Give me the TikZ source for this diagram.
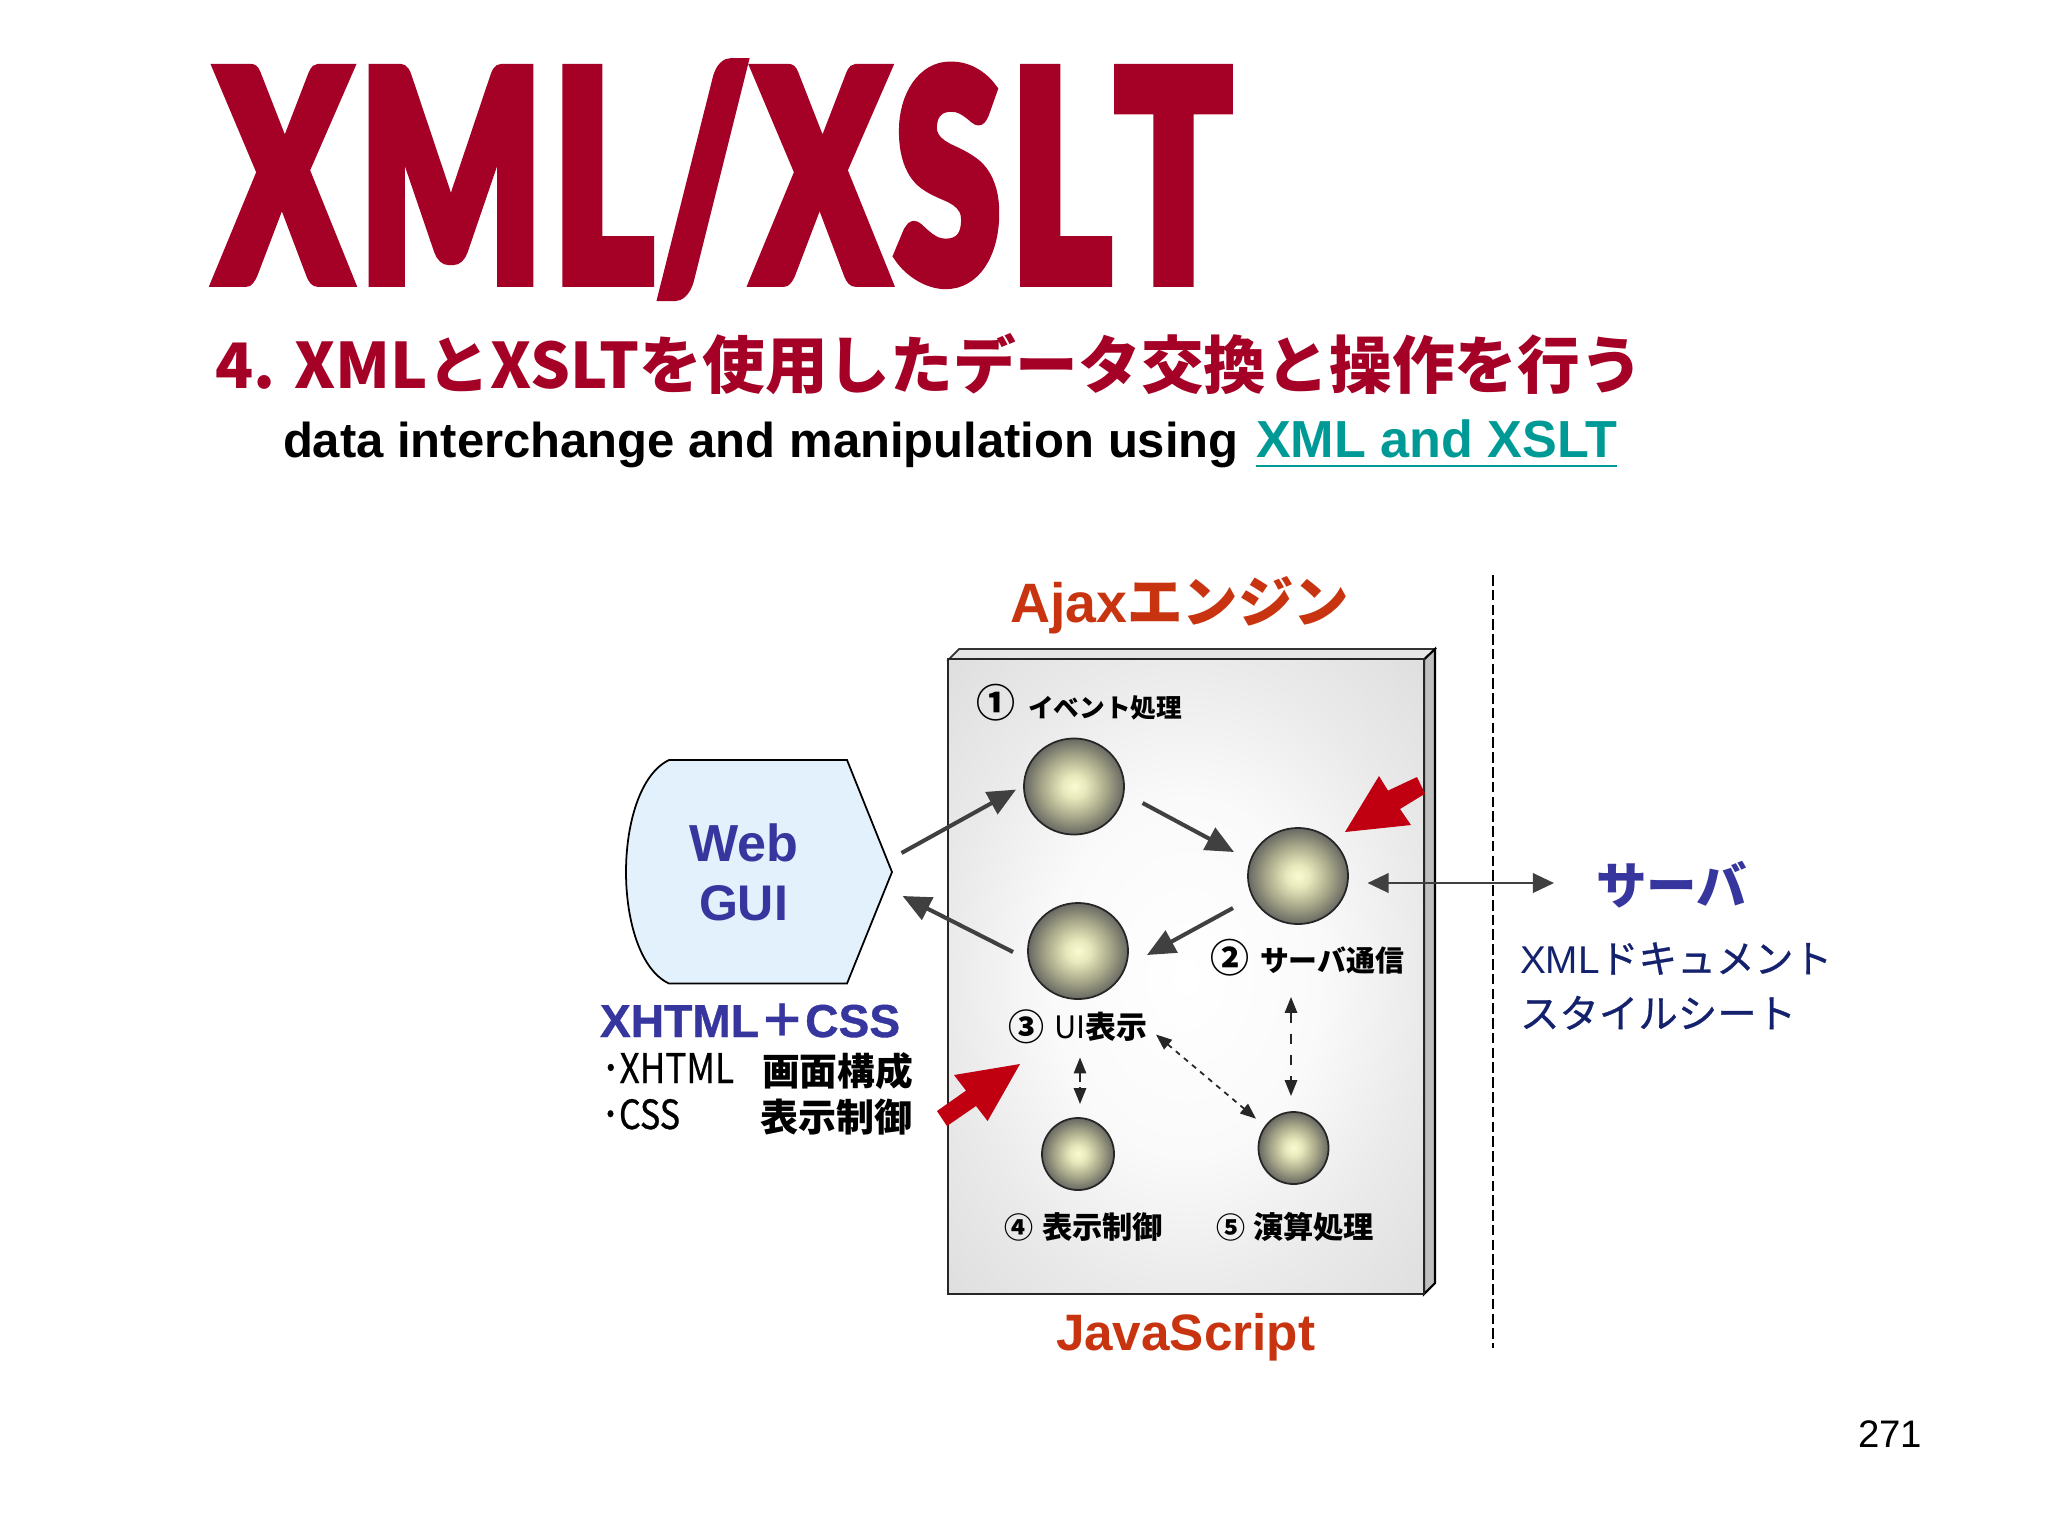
\documentclass[tikz,border=0pt]{standalone}
\usepackage{graphicx}
\usepackage{fontspec}
\setmainfont{Liberation Sans}
\newfontfamily\jp{Noto Sans CJK JP}
\newfontfamily\jpm[FakeBold=0.7]{Noto Sans CJK JP}
\newfontfamily\lbold[FakeBold=0.8]{Liberation Sans Bold}
\IfFontExistsTF{Lato Black}{\newfontfamily\heavy[FakeBold=4]{Lato Black}}{\newfontfamily\heavy[FakeBold=5]{Liberation Sans Bold}}
\usetikzlibrary{arrows.meta,shapes.geometric,shadings}
\definecolor{crimson}{HTML}{A50026}
\definecolor{shadowc}{HTML}{C8C8C8}
\definecolor{tealc}{HTML}{009A96}
\definecolor{orangec}{HTML}{C83410}
\definecolor{bluec}{HTML}{36369E}
\definecolor{navyc}{HTML}{14226E}
\definecolor{arrowc}{HTML}{404040}
\definecolor{redc}{HTML}{C00010}
\definecolor{orbcore}{HTML}{FBFBD2}
\definecolor{orbbright}{HTML}{E8E8BC}
\definecolor{orbmid}{HTML}{A8A88A}
\definecolor{orbedge}{HTML}{686862}
\definecolor{webfill}{HTML}{E2F1FB}
\definecolor{panelmid}{HTML}{FAFAFA}
\definecolor{paneledge}{HTML}{EAEAEA}
\definecolor{panelcorner}{HTML}{DEDEDE}
\pgfdeclareradialshading{orbshade}{\pgfpointorigin}{
  color(0bp)=(orbcore);
  color(6bp)=(orbbright);
  color(16bp)=(orbmid);
  color(25bp)=(orbedge);
  color(50bp)=(orbedge)}
\pgfdeclareradialshading{panelshade}{\pgfpointorigin}{
  color(0bp)=(white);
  color(14bp)=(panelmid);
  color(25bp)=(paneledge);
  color(36bp)=(panelcorner);
  color(50bp)=(panelcorner)}
\tikzset{
  txt/.style={inner sep=0pt,outer sep=0pt,anchor=base west},
  orb/.style={ellipse,draw=black!85,line width=0.5pt,shading=orbshade,inner sep=0pt},
  flow/.style={draw=arrowc,line width=1.15pt,-{Triangle[length=8pt,width=7pt]}},
  both/.style={draw=black!85,line width=0.5pt,dashed,{Triangle[length=4.5pt,width=3.5pt]}-{Triangle[length=4.5pt,width=3.5pt]}},
  redarrow/.style={fill=redc,draw=none},
}
\newcommand{\fitw}[2]{\resizebox{#1cm}{!}{#2}}
\begin{document}
\begin{tikzpicture}[x=0.01cm,y=-0.01cm]
\useasboundingbox (0,0) rectangle (2048,1536);
\fill[white] (0,0) rectangle (2048,1536);
% title
\node[txt,text=crimson] (title) at (217,281) {\resizebox{10.14cm}{2.17cm}{\heavy X\kern.05em M\kern.05em L\kern.02em/\kern.03em X\kern.04em S\kern.05em L\kern.02em T}};
\node[txt,text=crimson] (sub) at (215,388) {\fitw{14.27}{\jp\bfseries 4. XMLとXSLTを使用したデータ交換と操作を行う}};
\node[txt] (en) at (283,457) {\fitw{9.55}{\bfseries data interchange and manipulation using}};
\node[txt,text=tealc] (enlink) at (1256,457) {\fitw{3.61}{\bfseries XML and XSLT}};
\coordinate (ula) at (1256,466);
\coordinate (ulb) at (1617,466);
\draw[tealc,line width=0.8pt] (ula) -- (ulb);
% divider
\coordinate (diva) at (1493,575);
\coordinate (divb) at (1493,1348);
\draw[black,line width=0.4pt,dash pattern=on 3pt off 1.2pt] (diva) -- (divb);
% panel
\fill[white!90!black,draw=black!80,line width=0.5pt] (948.5,659.5) -- (959,649) -- (1435,649) -- (1424,659.5) -- cycle;
\fill[white!75!black,draw=black,line width=0.6pt] (1424,659.5) -- (1435,649) -- (1435,1283) -- (1424,1294) -- cycle;
\node[rectangle,draw=black!85,line width=0.6pt,shading=panelshade,minimum width=4.755cm,minimum height=6.345cm,inner sep=0pt] (panel) at (1186.25,976.75) {};
% web gui
\draw[draw=black,line width=0.5pt,fill=webfill] (669,760) -- (847,760) -- (892,872) -- (847,983.5) -- (669,983.5)
   .. controls (640,970) and (626,920) .. (626,872) .. controls (626,824) and (640,774) .. (669,760) -- cycle;
\node[txt,text=bluec] (web) at (689,861) {\fitw{1.09}{\bfseries Web}};
\node[txt,text=bluec] (gui) at (699,920) {\fitw{0.89}{\bfseries GUI}};
% orbs
\node[orb,minimum width=1.0cm,minimum height=0.96cm] (s1) at (1074,786.5) {};
\node[orb,minimum width=1.0cm,minimum height=0.96cm] (s2) at (1298,876) {};
\node[orb,minimum width=1.0cm,minimum height=0.96cm] (s3) at (1078,951) {};
\node[orb,minimum width=0.72cm,minimum height=0.72cm] (s4) at (1078,1154) {};
\node[orb,minimum width=0.7cm,minimum height=0.72cm] (s5) at (1293.5,1148) {};
% panel labels
\node[txt,text=orangec] (ajax) at (1010,622) {\fitw{3.39}{\bfseries Ajax\jp エンジン}};
\node[txt,text=orangec] (js) at (1056,1350) {\fitw{2.59}{\bfseries JavaScript}};
\node[txt] (n1) at (976,717) {\fitw{0.39}{\jp\bfseries ①}};
\node[txt] (l1) at (1028,717) {\fitw{1.54}{\jp\bfseries イベント処理}};
\node[txt] (n2) at (1210,972) {\fitw{0.39}{\jp\bfseries ②}};
\node[txt] (l2) at (1260,971) {\fitw{1.44}{\jp\bfseries サーバ通信}};
\node[txt] (n3) at (1008,1040) {\fitw{0.36}{\jp\bfseries ③}};
\node[txt] (l3) at (1054,1038.6) {\fitw{0.93}{\jp UI\bfseries 表示}};
\node[txt] (n4) at (1004,1238) {\fitw{0.29}{\jp\bfseries ④}};
\node[txt] (l4) at (1042,1238.6) {\fitw{1.21}{\jp\bfseries 表示制御}};
\node[txt] (n5) at (1216,1238) {\fitw{0.29}{\jp\bfseries ⑤}};
\node[txt] (l5) at (1253,1238.6) {\fitw{1.21}{\jp\bfseries 演算処理}};
% left labels
\node[txt,text=bluec] (xc) at (600,1037) {\fitw{3.0}{\lbold XHTML\jp\bfseries ＋\lbold CSS}};
\node[txt] (x1) at (602,1083) {\resizebox{1.32cm}{0.3cm}{\jpm ･XHTML}};
\node[txt] (x1j) at (762,1085.5) {\fitw{1.51}{\jp\bfseries 画面構成}};
\node[txt] (x2) at (602,1129) {\resizebox{0.78cm}{0.3cm}{\jpm ･CSS}};
\node[txt] (x2j) at (760,1131) {\fitw{1.52}{\jp\bfseries 表示制御}};
% server
\node[txt,text=bluec] (srv) at (1596,904) {\fitw{1.51}{\jp\bfseries サーバ}};
\node[txt,text=navyc] (doc) at (1520,973) {\fitw{3.12}{XML\jpm ドキュメント}};
\node[txt,text=navyc] (sty) at (1520,1028) {\fitw{2.76}{\jpm スタイルシート}};
\node[txt] (page) at (1858,1447) {\fitw{0.64}{271}};
% connector ends
\coordinate (a1) at (901.5,853); \coordinate (b1) at (1016,789.6);
\coordinate (a2) at (1142.6,803); \coordinate (b2) at (1234,852);
\coordinate (a3) at (1233,908); \coordinate (b3) at (1147,955);
\coordinate (a4) at (1013,952); \coordinate (b4) at (902.6,896);
\coordinate (a5) at (1367.5,883); \coordinate (b5) at (1554,883);
\coordinate (a6) at (1291,997); \coordinate (b6) at (1291,1096);
\coordinate (a7) at (1080,1057.5); \coordinate (b7) at (1080,1104);
\coordinate (a8) at (1156,1034.5); \coordinate (b8) at (1256,1118.7);
\draw[flow] (a1) -- (b1);
\draw[flow] (a2) -- (b2);
\draw[flow] (a3) -- (b3);
\draw[flow] (a4) -- (b4);
\draw[draw=arrowc,line width=0.8pt,{Triangle[length=6pt,width=5.5pt]}-{Triangle[length=6pt,width=5.5pt]}] (a5) -- (b5);
\draw[both] (a6) -- (b6);
\draw[both,dash pattern=on 2.5pt off 1.5pt] (a7) -- (b7);
\draw[both,dash pattern=on 1.5pt off 1.5pt] (a8) -- (b8);
% red arrows
\fill[redarrow] (1345,832) -- (1379,776) -- (1388,790.6) -- (1417,777) -- (1425,793.7) -- (1400,809) -- (1411,825) -- cycle;
\fill[redarrow] (1020,1064) -- (987.6,1121) -- (976,1106) -- (947,1126) -- (937,1111) -- (966,1090.6) -- (954,1075) -- cycle;
\end{tikzpicture}
\end{document}
